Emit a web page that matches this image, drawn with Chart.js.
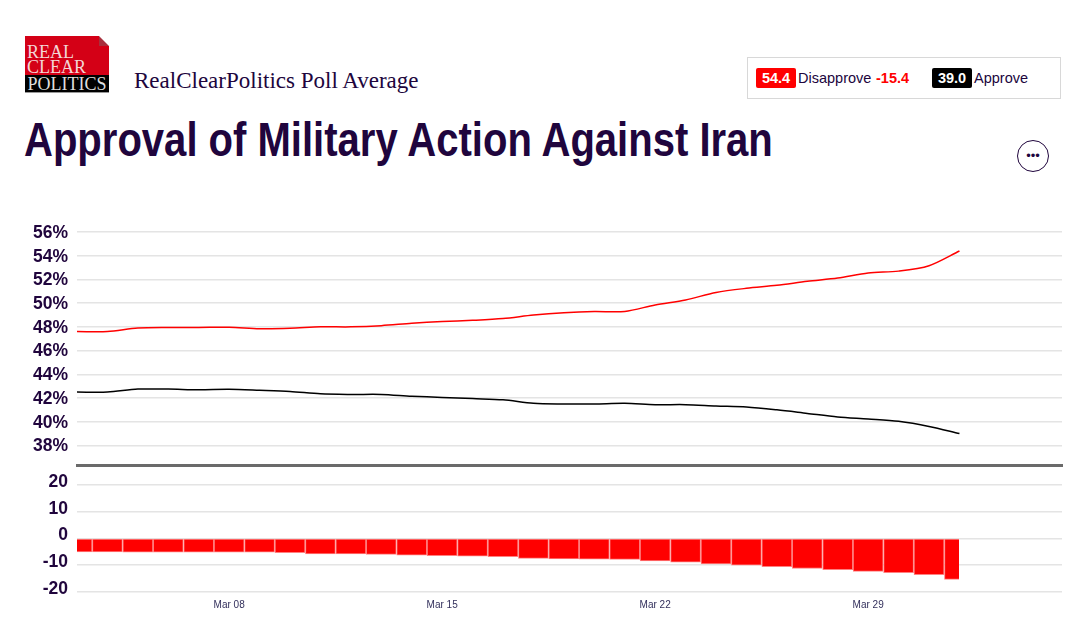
<!DOCTYPE html>
<html>
<head>
<meta charset="utf-8">
<title>Approval of Military Action Against Iran</title>
<script src="https://cdn.jsdelivr.net/npm/chart.js@4"></script>
<style>
    body { margin: 0; background: #fff; width: 1077px; height: 624px; overflow: hidden; position: relative; font-family: "Liberation Sans", Arial, sans-serif; color: #20053d; }
    .abs { position: absolute; white-space: nowrap; }
    canvas { position: absolute; left: 0; }
    #logo { left: 25px; top: 36px; width: 84px; height: 57px; background: #d40016; overflow: hidden; font-family: "Liberation Serif", serif; color: #f3d6d6; font-size: 18px; line-height: 15px; }
    #logo .fold { position: absolute; right: 0; top: 0; width: 0; height: 0; border-style: solid; border-width: 5px; border-color: #fff #fff #a8303d #a8303d; }
    #logo .t { position: absolute; left: 2px; }
    #logo .black { position: absolute; left: 0; top: 39px; width: 84px; height: 17px; background: #000; color: #ddd; font-size: 18px; line-height: 18px; text-align: center; }
    #logo .edge { position: absolute; left: 0; top: 56px; width: 84px; height: 1px; background: #999; }
    #sub { left: 134px; top: 68px; font-family: "Liberation Serif", serif; font-size: 23px; }
    #title { left: 24px; top: 112px; font-size: 48px; font-weight: bold; transform-origin: left top; transform: scaleX(0.834); }
    #legend { left: 747px; top: 57px; width: 312px; height: 40px; border: 1px solid #d8d8d8; }
    .badge { top: 68px; width: 40px; height: 20px; line-height: 21px; text-align: center; border-radius: 2px; color: #fff; font-weight: bold; font-size: 14.5px; }
    .lab { top: 70px; font-size: 14.5px; line-height: 17px; }
    #more { left: 1017px; top: 140px; width: 30px; height: 30px; border: 1.5px solid #20053d; border-radius: 50%; text-align: center; font-size: 13px; line-height: 30px; }
</style>
</head>
<body>
<div class="abs" id="logo">
    <div class="fold"></div>
    <div class="t" style="top:9px">REAL</div>
    <div class="t" style="top:24px">CLEAR</div>
    <div class="black">POLITICS</div>
    <div class="edge"></div>
</div>
<div class="abs" id="sub">RealClearPolitics Poll Average</div>
<div class="abs" id="title">Approval of Military Action Against Iran</div>
<div class="abs" id="legend"></div>
<div class="abs badge" style="left:756px;background:#f00">54.4</div>
<div class="abs lab" style="left:798px">Disapprove</div>
<div class="abs lab" style="left:876px;color:#f00;font-weight:bold">-15.4</div>
<div class="abs badge" style="left:932px;background:#000">39.0</div>
<div class="abs lab" style="left:974px">Approve</div>
<div class="abs" id="more">&#8226;&#8226;&#8226;</div>

<canvas id="pollChart" width="1077" height="247" style="top:220px"></canvas>
<canvas id="spreadChart" width="1077" height="159" style="top:465px"></canvas>

<script>
// day of March, so 32 is Apr 01
const days = [3, 4, 5, 6, 7, 8, 9, 10, 11, 12, 13, 14, 15, 16, 17, 18, 19, 20, 21, 22, 23, 24, 25, 26, 27, 28, 29, 30, 31, 32];
const disapprove = [47.6, 47.6, 47.9, 47.95, 47.95, 47.97, 47.85, 47.88, 48.0, 48.0, 48.1, 48.3, 48.45, 48.55, 48.7, 49.0, 49.2, 49.3, 49.3, 49.85, 50.27, 50.9, 51.25, 51.5, 51.84, 52.12, 52.54, 52.7, 53.16, 54.4];
const approve = [42.5, 42.5, 42.75, 42.75, 42.7, 42.73, 42.65, 42.55, 42.35, 42.3, 42.3, 42.15, 42.05, 41.95, 41.85, 41.55, 41.5, 41.5, 41.55, 41.44, 41.44, 41.33, 41.24, 41.0, 40.7, 40.4, 40.23, 40.03, 39.6, 39.0];
const spread = [-5.1, -5.1, -5.2, -5.2, -5.2, -5.2, -5.2, -5.4, -5.8, -5.8, -6.0, -6.3, -6.5, -6.7, -6.9, -7.5, -7.7, -7.8, -7.9, -8.5, -8.9, -9.6, -10.1, -10.6, -11.3, -11.7, -12.4, -12.9, -13.6, -15.4];

const pollTicks = [38, 40, 42, 44, 46, 48, 50, 52, 54, 56];
const spreadTicks = [-20, -10, 0, 10, 20];
const dateTicks = [8, 15, 22, 29];
const dateLabels = ["Mar 08", "Mar 15", "Mar 22", "Mar 29"];

const ink = "#20053d";
const gridColor = "#e4e4e4";
const xMin = 3;
const xMax = 35.37;

Chart.defaults.font.family = '"Liberation Sans", Arial, sans-serif';
Chart.defaults.animation = false;

const points = values => values.map((v, i) => ({ x: days[i], y: v }));
const useTicks = list => scale => { scale.ticks = list.map(v => ({ value: v })); };
// fixed gutters so both panels line up with each other
const fixY = scale => { scale.width = 77; scale.paddingTop = 0; scale.paddingBottom = 0; };
const fixX = height => scale => { scale.height = height; scale.paddingLeft = 0; scale.paddingRight = 0; };

new Chart(document.getElementById("pollChart"), {
    type: "line",
    data: {
        datasets: [
            { label: "Disapprove", data: points(disapprove), borderColor: "#f00", borderWidth: 1.5, pointRadius: 0, tension: 0.3 },
            { label: "Approve", data: points(approve), borderColor: "#000", borderWidth: 1.5, pointRadius: 0, tension: 0.3 }
        ]
    },
    options: {
        responsive: false,
        layout: { padding: { top: 12, right: 15, bottom: 2, left: 0 } },
        plugins: { legend: { display: false }, tooltip: { enabled: false } },
        scales: {
            x: {
                type: "linear",
                min: xMin,
                max: xMax,
                afterFit: fixX(0),
                grid: { display: false },
                border: { display: true, color: "#6a6a6a", width: 3 },
                ticks: { display: false }
            },
            y: {
                min: 36.35,
                max: 56,
                afterBuildTicks: useTicks(pollTicks),
                afterFit: fixY,
                grid: { color: gridColor, lineWidth: 1.5, drawTicks: false },
                border: { display: false },
                ticks: { color: ink, padding: 9, labelOffset: 1, font: { size: 17.5, weight: "bold" }, callback: v => v + "%" }
            }
        }
    }
});

new Chart(document.getElementById("spreadChart"), {
    type: "bar",
    data: {
        datasets: [
            {
                label: "Spread",
                data: points(spread),
                backgroundColor: "#f00",
                borderColor: "#ff8080",
                borderWidth: 1,
                borderSkipped: false,
                barThickness: 30,
                // last bar stops at its own date, like the first one starts at it
                clip: { left: 0, top: 0, right: -103, bottom: 0 }
            }
        ]
    },
    options: {
        responsive: false,
        layout: { padding: { top: 0, right: 15, bottom: 0, left: 0 } },
        plugins: { legend: { display: false }, tooltip: { enabled: false } },
        scales: {
            x: {
                type: "linear",
                offset: false,
                min: xMin,
                max: xMax,
                afterBuildTicks: useTicks(dateTicks),
                afterFit: fixX(32.3),
                grid: { display: false, drawTicks: false },
                border: { display: false },
                ticks: {
                    color: "#33305c",
                    padding: 8,
                    maxRotation: 0,
                    font: { size: 10 },
                    callback: v => dateLabels[dateTicks.indexOf(v)]
                }
            },
            y: {
                min: -20,
                max: 27.5,
                afterBuildTicks: useTicks(spreadTicks),
                afterFit: fixY,
                grid: { color: gridColor, lineWidth: 1.5, drawTicks: false },
                border: { display: false },
                ticks: { color: ink, padding: 9, labelOffset: -3, font: { size: 17.5, weight: "bold" } }
            }
        }
    }
});
</script>
</body>
</html>
